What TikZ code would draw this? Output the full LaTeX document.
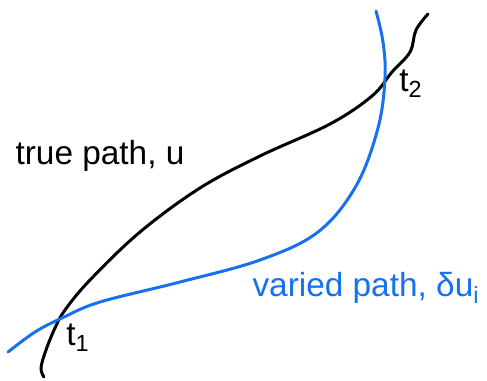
\documentclass[tikz,border=0pt]{standalone}
\usepackage{fontspec}
\setmainfont{Liberation Sans}
\usetikzlibrary{positioning}
\definecolor{pathblue}{RGB}{22,112,240}

\begin{document}
\begin{tikzpicture}[
        x=0.02cm, y=-0.02cm,
        truepath/.style={line width=1.7pt, line cap=round, line join=round, black},
        variedpath/.style={line width=1.7pt, line cap=round, line join=round, pathblue},
        lbl/.style={font=\fontsize{19}{22}\selectfont, inner sep=0pt}
    ]
        \useasboundingbox (0,0) rectangle (487,380);

        % true path
        \draw[truepath] plot[smooth, tension=0.6] coordinates {
            (44,377) (41,368) (46,350) (55,328) (65,310) (90,280) (140,232)
            (200,188) (260,156) (330,124) (372,96) (392,72) (410,52)
            (416,30) (428,14)};

        % varied path
        \draw[variedpath] plot[smooth, tension=0.6] coordinates {
            (8,352) (35,332) (62,318) (100,302) (180,282) (260,260)
            (318,232) (356,186) (378,128) (385,78) (383,42) (376,11)};

        % labels
        \node[lbl] (truelbl) at (100,156) {true path, u};
        \node[lbl, text=pathblue] (variedlbl) at (366,288) {varied path, δu\textsubscript{i}};
        \node[lbl] (t1) at (78,338) {t\textsubscript{1}};
        \node[lbl] (t2) at (411,84) {t\textsubscript{2}};
    \end{tikzpicture}
\end{document}
